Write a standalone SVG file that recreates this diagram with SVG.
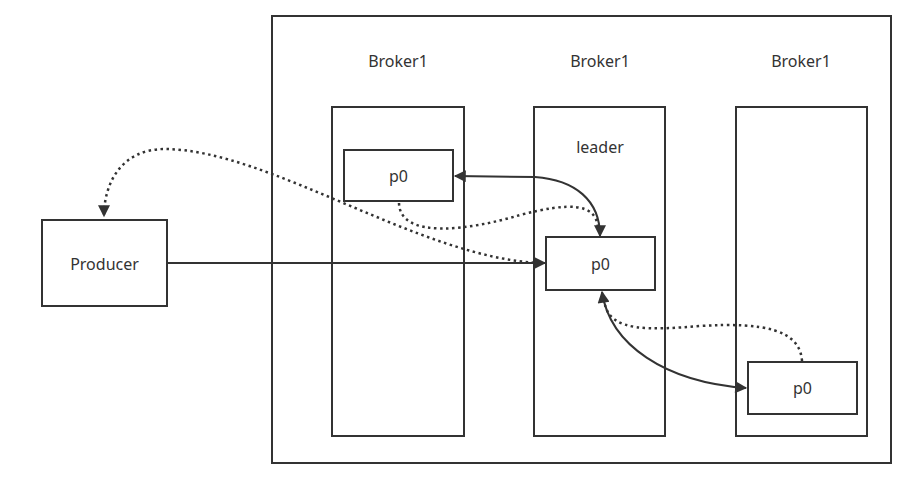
<svg xmlns="http://www.w3.org/2000/svg" width="904" height="491" viewBox="0 0 904 491">
<style>
.box{fill:#fff;stroke:#333;stroke-width:2}
.lbl{font-family:"Noto Sans","Open Sans",sans-serif;font-size:16px;fill:#333;text-anchor:middle;dominant-baseline:central}
.solid{fill:none;stroke:#333;stroke-width:2}
.dot{fill:none;stroke:#333;stroke-width:2.5;stroke-dasharray:2.5 3.5}
</style>
<defs>
<marker id="ahb" viewBox="0 0 10 10" refX="9" refY="5" markerWidth="16" markerHeight="12" markerUnits="userSpaceOnUse" orient="auto-start-reverse">
<path d="M0,0 L10,5 L0,10 z" fill="#333"/>
</marker>
</defs>
<rect width="904" height="491" fill="#fff"/>
<g id="cluster">
<rect class="box" x="272" y="16" width="619" height="447"/>
</g>
<g id="broker1">
<text class="lbl" x="398" y="61">Broker1</text>
<rect class="box" x="332" y="107" width="132" height="329"/>
</g>
<g id="broker2">
<text class="lbl" x="600" y="61">Broker1</text>
<rect class="box" x="534" y="107" width="131" height="329"/>
<text class="lbl" x="600" y="147">leader</text>
</g>
<g id="broker3">
<text class="lbl" x="801" y="61">Broker1</text>
<rect class="box" x="736" y="107" width="131" height="329"/>
</g>
<g id="producer">
<rect class="box" x="42" y="220" width="125" height="86"/>
<text class="lbl" x="104.5" y="264">Producer</text>
</g>
<g id="p0-left">
<rect class="box" x="344" y="150" width="109" height="51"/>
<text class="lbl" x="398.5" y="176">p0</text>
</g>
<g id="p0-leader">
<rect class="box" x="546" y="237" width="109" height="53"/>
<text class="lbl" x="600.5" y="264">p0</text>
</g>
<g id="p0-right">
<rect class="box" x="748" y="362" width="109" height="52"/>
<text class="lbl" x="802.5" y="388">p0</text>
</g>
<g id="connectors">
<path class="solid" d="M167 263 L545 263" marker-end="url(#ahb)"/>
<path class="dot" d="M540 263 C420 258 270 150 165 149 C120 149 104 185 104 216" marker-end="url(#ahb)"/>
<path class="solid" d="M455 176 L535 177 C575 180 600 200 600 236" marker-start="url(#ahb)" marker-end="url(#ahb)"/>
<path class="dot" d="M399 203 C400 240 470 230 520 215 C570 202 596 203 598 228"/>
<path class="solid" d="M602 292 C610 345 665 382 746 388" marker-start="url(#ahb)" marker-end="url(#ahb)"/>
<path class="dot" d="M802 361 C800 330 765 322 700 326 C650 330 612 332 605 305"/>
</g>
</svg>
